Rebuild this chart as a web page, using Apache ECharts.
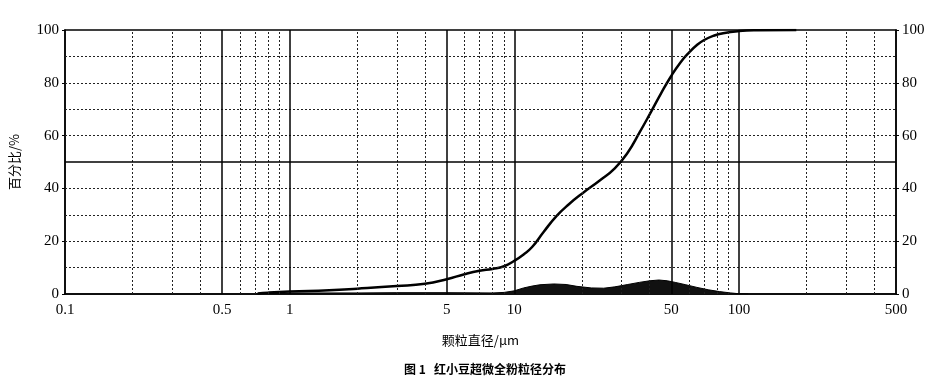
<!DOCTYPE html>
<html>
<head>
<meta charset="utf-8">
<script src="https://cdn.jsdelivr.net/npm/echarts@6/dist/echarts.min.js"></script>
<style>
  html, body { margin: 0; padding: 0; background: #fff; }
  #chart { width: 930px; height: 378px; }
</style>
</head>
<body>
<div id="chart"></div>
<script>
// particle diameter (um) -> cumulative %
const cumSize = [0.72, 0.8, 1, 1.5, 2, 3, 4, 5, 6, 7, 8, 9, 10, 11, 12, 13.5, 15.4, 17.5, 20, 24, 28, 32, 36, 40.6, 45, 49.7, 55, 60, 65, 70, 77, 85, 100, 120, 180]
const cumValue = [0.2, 0.5, 0.9, 1.4, 2.0, 3.0, 3.9, 5.6, 7.5, 8.8, 9.5, 10.5, 12.6, 15.0, 17.8, 23.5, 29.5, 34, 38, 43, 47.6, 53.6, 61, 69, 76, 82.3, 87.8, 91.5, 94.3, 96.2, 97.8, 98.8, 99.6, 99.9, 100]
// differential distribution %
const difSize = [0.7, 0.8, 1, 2, 3, 5, 8, 9, 10, 11, 12, 13, 15, 17, 19, 22, 25, 28, 32, 36, 40, 44, 48, 52, 58, 65, 73, 82, 92, 100, 110]
const difValue = [0, 0.2, 0.4, 0.4, 0.5, 0.5, 0.4, 0.6, 1.2, 2.3, 3.0, 3.5, 3.8, 3.6, 2.9, 2.3, 2.2, 2.7, 3.6, 4.4, 5.0, 5.3, 5.0, 4.4, 3.5, 2.5, 1.6, 0.9, 0.4, 0.1, 0]

const xLabels = [0.1, 0.5, 1, 5, 10, 50, 100, 500]
const xSolid = [0.5, 1, 5, 10, 50, 100]
const xDotted = [0.2, 0.3, 0.4, 0.6, 0.7, 0.8, 0.9, 2, 3, 4, 6, 7, 8, 9, 20, 30, 40, 60, 70, 80, 90, 200, 300, 400]
const ySolid = [50]
const yDotted = [10, 20, 30, 40, 60, 70, 80, 90]

const serif = '"Liberation Serif", "DejaVu Serif", serif'
const cjk = '"Noto Sans CJK SC", sans-serif'
const dotStyle = { color: '#222', width: 1, type: [2, 2] }
const solidStyle = { color: '#000', width: 1.5, type: 'solid' }

const chart = echarts.init(document.getElementById('chart'))

function yAxisCfg(pos) {
  return {
    type: 'value', position: pos, min: 0, max: 100, interval: 20,
    axisLine: { show: true, lineStyle: { color: '#000', width: 1.5 } },
    axisTick: { show: true, length: 3, lineStyle: { color: '#000' } },
    axisLabel: { color: '#000', fontFamily: serif, fontSize: 15, margin: 6 },
    splitLine: { show: false }
  }
}

const gridLines = [
  ...xDotted.map(v => ({ xAxis: v, lineStyle: dotStyle })),
  ...yDotted.map(v => ({ yAxis: v, lineStyle: dotStyle })),
  ...xSolid.map(v => ({ xAxis: v, lineStyle: solidStyle })),
  ...ySolid.map(v => ({ yAxis: v, lineStyle: solidStyle }))
]

chart.setOption({
  animation: false,
  grid: { left: 64, right: 34, top: 30, bottom: 84, show: true, borderColor: '#000', borderWidth: 1.5 },
  xAxis: {
    type: 'log', logBase: 10, min: 0.1, max: 500,
    name: '颗粒直径/μm', nameLocation: 'middle', nameGap: 40,
    nameTextStyle: { color: '#000', fontFamily: cjk, fontSize: 13 },
    axisLine: { show: true, lineStyle: { color: '#000', width: 1.5 } },
    axisTick: { show: false },
    axisLabel: { color: '#000', fontFamily: serif, fontSize: 15, margin: 9, customValues: xLabels,
      formatter: v => String(+v.toPrecision(3)) },
    splitLine: { show: false }
  },
  yAxis: [
    Object.assign(yAxisCfg('left'), {
      name: '百分比/%', nameLocation: 'middle', nameGap: 44, nameRotate: 90,
      nameTextStyle: { color: '#000', fontFamily: cjk, fontSize: 13 }
    }),
    yAxisCfg('right')
  ],
  title: {
    text: '图 1   红小豆超微全粉粒径分布', left: 480, textAlign: 'center', top: 358,
    textStyle: { color: '#000', fontFamily: cjk, fontSize: 12, fontWeight: 'bold' }
  },
  series: [
    {
      type: 'line', data: difSize.map((d, i) => [d, difValue[i]]),
      symbol: 'none', smooth: false,
      lineStyle: { color: '#000', width: 1 }, areaStyle: { color: '#111', opacity: 1 },
      markLine: { silent: true, symbol: 'none', label: { show: false }, data: gridLines }
    },
    {
      type: 'line', data: cumSize.map((d, i) => [d, cumValue[i]]),
      symbol: 'none', smooth: 0.5,
      lineStyle: { color: '#000', width: 2.5 }
    }
  ]
})
</script>
</body>
</html>
